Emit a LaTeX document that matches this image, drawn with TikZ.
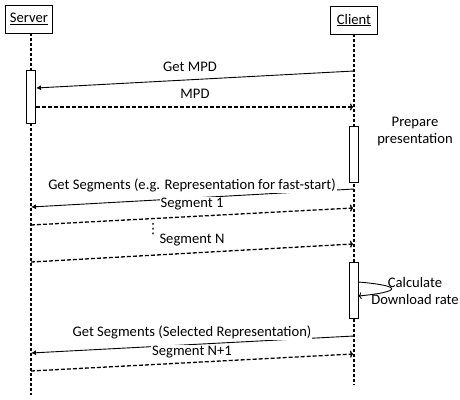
\documentclass[tikz,border=0pt]{standalone}
\usepackage{fontspec}
\setmainfont{Carlito}
\newfontfamily\symfont{DejaVu Sans}
\usetikzlibrary{arrows.meta,positioning}

\tikzset{
  actor/.style={draw, thick, minimum width=47pt, minimum height=28pt, inner sep=0pt},
  life/.style={line width=1.6pt, dash pattern=on 3pt off 2pt},
  act/.style={draw, fill=white, minimum width=9pt, inner sep=0pt},
  call/.style={-{Latex[length=5pt,width=5pt]}, line width=0.9pt},
  reply/.style={-{To[length=3pt,width=7pt]}, line width=1.3pt, dash pattern=on 4pt off 2pt},
  msg/.style={fill=white, inner sep=1pt},
  note/.style={align=center, inner sep=0pt}
}

\begin{document}
\begin{tikzpicture}[x=1pt, y=-1pt, font=\fontsize{14.6}{17}\selectfont]
\useasboundingbox (0,0) rectangle (460,399);

% actors
\node[actor] (srv) at (29,19) {\underline{Server}};
\node[actor] (cli) at (354,20) {\underline{Client}};
\coordinate (srvend) at (31,395);
\coordinate (cliend) at (354,385);
\draw[life] (31,33) -- (srvend);
\draw[life] (cli.south) -- (cliend);

% activations
\node[act, minimum height=53pt] (srvA) at (31,96.5) {};
\node[act, minimum height=56pt] (cliA) at (354,154) {};
\node[act, minimum height=56pt] (cliB) at (354,290) {};

% message ends
\coordinate (m1a) at (354,71);   \coordinate (m1b) at (36,88);
\coordinate (m2a) at (36,107);   \coordinate (m2b) at (353,107);
\coordinate (m3a) at (354,189);  \coordinate (m3b) at (31,207);
\coordinate (m4a) at (31,225);   \coordinate (m4b) at (353,208);
\coordinate (m5a) at (31,262);   \coordinate (m5b) at (353,244);
\coordinate (m6a) at (354,336);  \coordinate (m6b) at (31,353);
\coordinate (m7a) at (31,371);   \coordinate (m7b) at (353,354);
\coordinate (s1) at (358.5,282); \coordinate (s2) at (358.5,296);

\draw[call] (m1a) -- (m1b);
\draw[reply] (m2a) -- (m2b);
\draw[call] (m3a) -- (m3b);
\draw[reply] (m4a) -- (m4b);
\draw[reply] (m5a) -- (m5b);
\draw[call] (m6a) -- (m6b);
\draw[reply] (m7a) -- (m7b);
\draw[-{To[length=3pt,width=7pt]}, line width=0.9pt] (s1) .. controls (405,286) and (400,292) .. (s2);

% labels
\node[msg] (l1) at (190,67) {Get MPD};
\node[msg] (l2) at (195,94) {MPD};
\node[note] (l3) at (415,131) {Prepare\\presentation};
\node[msg] (l4) at (192,185) {Get Segments (e.g. Representation for fast-start)};
\node[msg] (l5) at (192,204) {Segment 1};
\node[inner sep=0pt] (l6) at (153,229) {\symfont\fontsize{14}{14}\selectfont ⋮};
\node[msg] (l7) at (192,240) {Segment N};
\node[note] (l8) at (415,291) {Calculate\\Download rate};
\node[msg] (l9) at (192,332) {Get Segments (Selected Representation)};
\node[msg] (l10) at (192,352) {Segment N+1};
\end{tikzpicture}
\end{document}
